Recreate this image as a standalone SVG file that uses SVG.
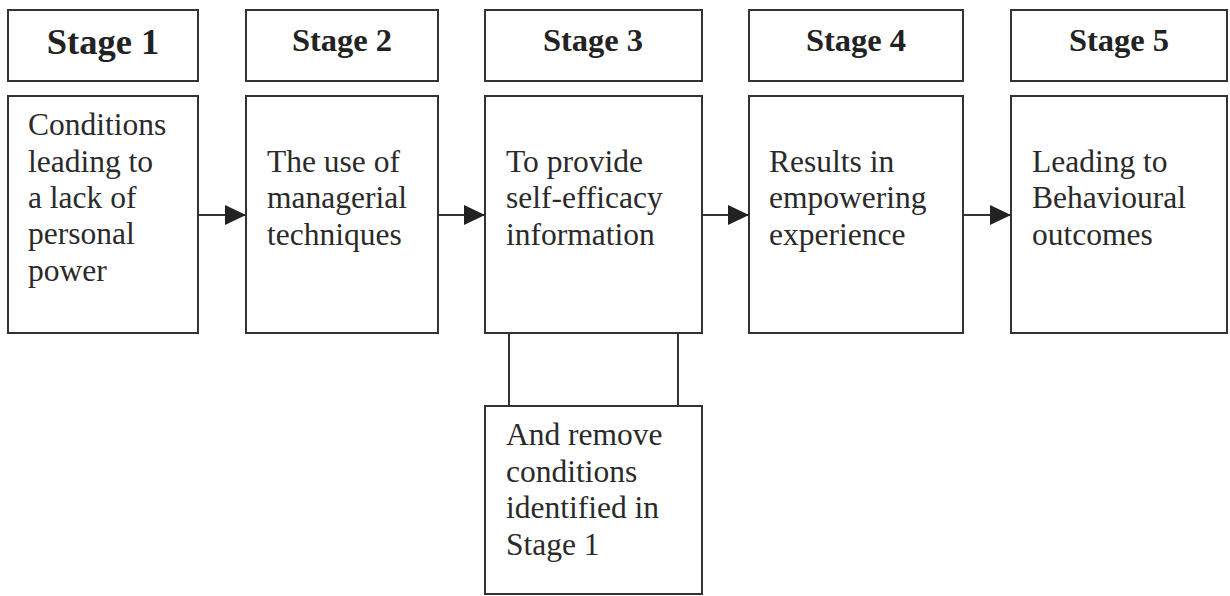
<svg xmlns="http://www.w3.org/2000/svg" width="1230" height="596" viewBox="0 0 1230 596">
<style>
.box{fill:#fff;stroke:#333;stroke-width:2}
.hd{font-family:"Liberation Serif",serif;font-weight:bold;font-size:32.5px;fill:#222;text-anchor:middle}
.tx{font-family:"Liberation Serif",serif;font-size:31.5px;fill:#2a2a2a}
.ln{stroke:#333;stroke-width:2;fill:none}
</style>
<defs>
<marker id="ah" markerWidth="21" markerHeight="20" refX="21" refY="10" orient="auto" markerUnits="userSpaceOnUse">
<path d="M0,0 L21,10 L0,20 Z" fill="#222"/>
</marker>
</defs>
<rect width="1230" height="596" fill="#fff"/>
<g id="stage1">
<rect class="box" x="8" y="10" width="190" height="71"/>
<text class="hd" x="103" y="54" style="font-size:36.5px">Stage 1</text>
<rect class="box" x="8" y="96" width="190" height="237"/>
<text class="tx" x="28" y="135">Conditions</text>
<text class="tx" x="28" y="172">leading to</text>
<text class="tx" x="28" y="208">a lack of</text>
<text class="tx" x="28" y="244">personal</text>
<text class="tx" x="28" y="281">power</text>
</g>
<g id="stage2">
<rect class="box" x="246" y="10" width="192" height="71"/>
<text class="hd" x="342" y="51">Stage 2</text>
<rect class="box" x="246" y="96" width="192" height="237"/>
<text class="tx" x="267" y="172">The use of</text>
<text class="tx" x="267" y="208">managerial</text>
<text class="tx" x="267" y="245">techniques</text>
</g>
<g id="stage3">
<rect class="box" x="485" y="10" width="217" height="71"/>
<text class="hd" x="593" y="51">Stage 3</text>
<rect class="box" x="485" y="96" width="217" height="237"/>
<text class="tx" x="506" y="172">To provide</text>
<text class="tx" x="506" y="208">self-efficacy</text>
<text class="tx" x="506" y="245">information</text>
</g>
<g id="stage4">
<rect class="box" x="749" y="10" width="214" height="71"/>
<text class="hd" x="856" y="51">Stage 4</text>
<rect class="box" x="749" y="96" width="214" height="237"/>
<text class="tx" x="769" y="172">Results in</text>
<text class="tx" x="769" y="208">empowering</text>
<text class="tx" x="769" y="245">experience</text>
</g>
<g id="stage5">
<rect class="box" x="1011" y="10" width="216" height="71"/>
<text class="hd" x="1119" y="51">Stage 5</text>
<rect class="box" x="1011" y="96" width="216" height="237"/>
<text class="tx" x="1032" y="172">Leading to</text>
<text class="tx" x="1032" y="208">Behavioural</text>
<text class="tx" x="1032" y="245">outcomes</text>
</g>
<g id="remove">
<rect class="box" x="485" y="406" width="217" height="188"/>
<text class="tx" x="506" y="445">And remove</text>
<text class="tx" x="506" y="482">conditions</text>
<text class="tx" x="506" y="518">identified in</text>
<text class="tx" x="506" y="555">Stage 1</text>
</g>
<g id="connectors">
<line class="ln" x1="198" y1="215" x2="246" y2="215" marker-end="url(#ah)"/>
<line class="ln" x1="438" y1="215" x2="485" y2="215" marker-end="url(#ah)"/>
<line class="ln" x1="702" y1="215" x2="749" y2="215" marker-end="url(#ah)"/>
<line class="ln" x1="963" y1="215" x2="1011" y2="215" marker-end="url(#ah)"/>
<line class="ln" x1="509" y1="333" x2="509" y2="406"/>
<line class="ln" x1="678" y1="333" x2="678" y2="406"/>
</g>
</svg>
